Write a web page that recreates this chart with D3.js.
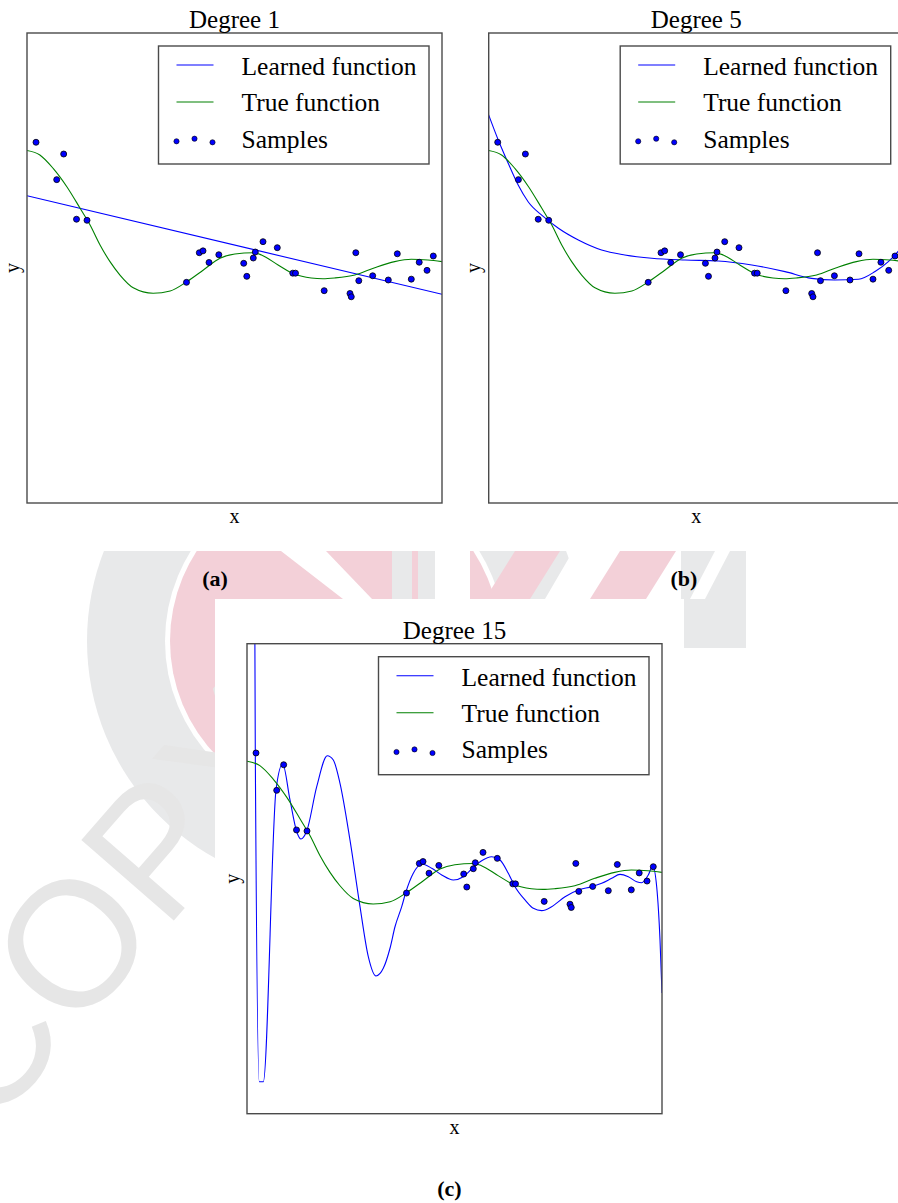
<!DOCTYPE html>
<html>
<head>
<meta charset="utf-8">
<script src="https://cdnjs.cloudflare.com/ajax/libs/d3/7.8.5/d3.min.js"></script>
<style>
  body { margin: 0; background: #fff; }
  svg text { font-family: 'Liberation Serif', 'Times New Roman', serif; fill: #000; }
</style>
</head>
<body>
<div id="chart-area"></div>
<script>
const titles = ['Degree 1', 'Degree 5', 'Degree 15'];
const captions = ['(a)', '(b)', '(c)'];
const legendLabels = ['Learned function', 'True function', 'Samples'];

// true function (x in [0,1], y in [-2,2])
const trueX = [0, 0.031, 0.063, 0.096, 0.128, 0.152, 0.176, 0.2, 0.224, 0.256, 0.304, 0.345, 0.385, 0.425, 0.465, 0.501, 0.545, 0.565, 0.605, 0.645, 0.685, 0.713, 0.741, 0.79, 0.838, 0.886, 0.926, 0.966, 1];
const trueY = [1.0, 0.962, 0.848, 0.692, 0.508, 0.366, 0.196, 0.054, -0.06, -0.168, -0.215, -0.196, -0.117, -0.017, 0.083, 0.119, 0.13, 0.111, 0.026, -0.054, -0.085, -0.091, -0.085, -0.06, 0.003, 0.054, 0.074, 0.068, 0.054];

const sampleX = [0.0217, 0.0716, 0.0884, 0.1193, 0.1446, 0.3843, 0.4152, 0.4241, 0.4386, 0.4622, 0.5222, 0.5296, 0.5453, 0.5501, 0.5687, 0.6031, 0.6405, 0.647, 0.7161, 0.7783, 0.7814, 0.7923, 0.7995, 0.833, 0.8706, 0.8923, 0.926, 0.9451, 0.9639, 0.979];
const sampleY = [1.07, 0.752, 0.97, 0.415, 0.406, -0.122, 0.13, 0.146, 0.047, 0.113, 0.04, -0.071, 0.085, 0.136, 0.224, 0.173, -0.044, -0.044, -0.193, -0.217, -0.245, 0.13, -0.108, -0.066, -0.102, 0.121, -0.095, 0.049, -0.02, 0.102];

const learned1X = [0, 1];
const learned1Y = [0.615, -0.224];

const learned5X = [0, 0.023, 0.047, 0.071, 0.095, 0.132, 0.168, 0.216, 0.272, 0.328, 0.393, 0.473, 0.553, 0.634, 0.714, 0.778, 0.834, 0.891, 0.931, 0.963, 0.986, 1];
const learned5Y = [1.302, 1.089, 0.891, 0.706, 0.564, 0.437, 0.338, 0.238, 0.153, 0.111, 0.083, 0.068, 0.06, 0.026, -0.031, -0.088, -0.102, -0.096, -0.03, 0.054, 0.139, 0.2];

const learned15X = [0, 0.0101, 0.02, 0.0296, 0.0393, 0.0699, 0.086, 0.1036, 0.1198, 0.1301, 0.1439, 0.168, 0.1935, 0.208, 0.2241, 0.2482, 0.2723, 0.2923, 0.3108, 0.3284, 0.3446, 0.3566, 0.3728, 0.3824, 0.4007, 0.421, 0.4451, 0.4692, 0.4971, 0.5212, 0.5429, 0.5655, 0.5896, 0.6096, 0.6296, 0.6458, 0.6699, 0.6899, 0.7101, 0.7342, 0.7663, 0.7983, 0.8306, 0.8547, 0.8788, 0.8988, 0.9188, 0.939, 0.9511, 0.967, 0.9776, 0.9872, 0.9952, 1];
const learned15Y = [20, 10.8, 1.072, -1.728, -1.728, 0.755, 0.976, 0.67, 0.4, 0.338, 0.406, 0.783, 1.047, 1.01, 0.812, 0.329, -0.238, -0.664, -0.828, -0.763, -0.592, -0.409, -0.238, -0.119, 0.046, 0.125, 0.089, 0.032, -0.011, 0.017, 0.089, 0.153, 0.187, 0.159, 0.046, -0.068, -0.181, -0.252, -0.272, -0.238, -0.153, -0.096, -0.068, -0.039, 0.003, 0.037, 0.017, -0.026, -0.034, 0.032, 0.108, -0.068, -0.522, -0.973];

const learned = [[learned1X, learned1Y], [learned5X, learned5Y], [learned15X, learned15Y]];

const plotSize = { width: 415, height: 470 };
const panelPos = [
  { left: 27, top: 33, capX: 215, capY: 586 },
  { left: 488.7, top: 33, capX: 684, capY: 586 },
  { left: 247, top: 643.7, capX: 449.5, capY: 1196 }
];
const blue = '#0000ff', green = '#008000', frame = '#4a4a4a';
const serif = "'Liberation Serif', 'Times New Roman', Times, serif";

const x = d3.scaleLinear().domain([0, 1]).range([0, plotSize.width]);
const y = d3.scaleLinear().domain([-2, 2]).range([plotSize.height, 0]);
const toPoints = (xs, ys) => xs.map((v, i) => [v, ys[i]]);
const line = d3.line().x(d => x(d[0])).y(d => y(d[1])).curve(d3.curveMonotoneX);

const svg = d3.select('#chart-area').append('svg')
  .attr('width', 898)
  .attr('height', 1203)
  .attr('font-family', serif);
svg.append('rect').attr('width', 898).attr('height', 1203).attr('fill', '#fff');

const addText = (parent, size, str) => parent.append('text')
  .attr('font-family', serif)
  .style('font-family', serif)
  .style('font-size', size)
  .text(str);

// faint watermark behind the figure (decoration only)
const drawWatermark = () => {
  const defs = svg.append('defs');
  const clip = defs.append('clipPath').attr('id', 'wm-clip');
  clip.append('rect').attr('x', 90).attr('y', 551).attr('width', 656).attr('height', 48);
  clip.append('rect').attr('x', 0).attr('y', 598).attr('width', 215).attr('height', 605);
  clip.append('rect').attr('x', 684).attr('y', 598).attr('width', 62).attr('height', 50);

  const wm = svg.append('g').attr('clip-path', 'url(#wm-clip)');
  const gray = '#e8e9ea', pink = '#f3d0d8';
  wm.append('circle').attr('cx', 335).attr('cy', 641).attr('r', 248).attr('fill', gray);
  wm.append('circle').attr('cx', 335).attr('cy', 641).attr('r', 170).attr('fill', '#fff');
  wm.append('circle').attr('cx', 335).attr('cy', 641).attr('r', 165).attr('fill', pink);
  const polys = [
    { p: [[281, 551], [326, 551], [372, 599], [343, 599]], c: '#fff' },
    { p: [[392, 551], [412, 551], [412, 599], [392, 599]], c: gray },
    { p: [[418, 551], [435, 551], [435, 599], [418, 599]], c: gray },
    { p: [[435, 551], [470, 551], [470, 599], [435, 599]], c: '#fff' },
    { p: [[515, 551], [560, 551], [530, 599], [485, 599]], c: pink },
    { p: [[573, 551], [620, 551], [590, 599], [545, 599]], c: '#fff' },
    { p: [[620, 551], [676, 551], [646, 599], [590, 599]], c: pink },
    { p: [[681, 551], [746, 551], [746, 650], [681, 650]], c: gray },
    { p: [[715, 551], [730, 551], [705, 599], [690, 599]], c: '#fff' }
  ];
  wm.selectAll('polygon').data(polys).enter().append('polygon')
    .attr('points', d => d.p.join(' '))
    .attr('fill', d => d.c);
  wm.append('text')
    .attr('transform', 'translate(-11,1133) rotate(-49)')
    .style('font-family', "'Liberation Sans', Arial, sans-serif")
    .style('font-size', '178px')
    .style('fill', '#e6e6e6')
    .text('COPY');
};

const drawPanel = (i) => {
  const pos = panelPos[i];
  const g = svg.append('g')
    .attr('class', 'panel')
    .attr('transform', `translate(${pos.left},${pos.top})`);

  g.append('rect')
    .attr('width', plotSize.width)
    .attr('height', plotSize.height)
    .attr('fill', '#fff');

  g.append('clipPath').attr('id', `clip${i}`)
    .append('rect').attr('width', plotSize.width).attr('height', plotSize.height);

  const plot = g.append('g').attr('clip-path', `url(#clip${i})`);
  plot.append('path')
    .attr('d', line(toPoints(...learned[i])))
    .attr('fill', 'none').attr('stroke', blue).attr('stroke-width', 1.1);
  plot.append('path')
    .attr('d', line(toPoints(trueX, trueY)))
    .attr('fill', 'none').attr('stroke', green).attr('stroke-width', 1.1);
  plot.selectAll('circle').data(toPoints(sampleX, sampleY)).enter().append('circle')
    .attr('cx', d => x(d[0]))
    .attr('cy', d => y(d[1]))
    .attr('r', 3)
    .attr('fill', blue)
    .attr('stroke', '#000')
    .attr('stroke-width', 0.8);

  g.append('rect')
    .attr('width', plotSize.width)
    .attr('height', plotSize.height)
    .attr('fill', 'none')
    .attr('stroke', frame)
    .attr('stroke-width', 1.4);

  addText(g, '25px', titles[i])
    .attr('x', plotSize.width / 2)
    .attr('y', -5)
    .attr('text-anchor', 'middle');

  addText(g, '20px', 'x')
    .attr('x', plotSize.width / 2)
    .attr('y', plotSize.height + 20)
    .attr('text-anchor', 'middle');

  addText(g, '20px', 'y')
    .attr('transform', `translate(-8.5,${plotSize.height / 2}) rotate(-90)`)
    .attr('text-anchor', 'middle');

  // legend
  const lg = g.append('g').attr('transform', 'translate(131.5,13)');
  lg.append('rect')
    .attr('width', 270.5).attr('height', 118)
    .attr('fill', '#fff').attr('stroke', frame).attr('stroke-width', 1.4);
  [blue, green].forEach((c, k) => {
    lg.append('line')
      .attr('x1', 18).attr('x2', 55)
      .attr('y1', 19 + k * 37).attr('y2', 19 + k * 37)
      .attr('stroke', c).attr('stroke-width', 1.1);
  });
  lg.selectAll('circle').data([95.3, 92.7, 96.3]).enter().append('circle')
    .attr('cx', (d, k) => 18 + k * 18)
    .attr('cy', d => d)
    .attr('r', 2.6)
    .attr('fill', blue)
    .attr('stroke', '#000')
    .attr('stroke-width', 0.6);
  legendLabels.forEach((label, k) => {
    addText(lg, '25.5px', label)
      .attr('x', 83)
      .attr('y', 29 + k * 36.3);
  });

  addText(svg, '22px', captions[i])
    .attr('x', pos.capX)
    .attr('y', pos.capY)
    .attr('text-anchor', 'middle')
    .style('font-weight', 'bold');
};

drawWatermark();
[0, 1, 2].forEach(drawPanel);
</script>
</body>
</html>
